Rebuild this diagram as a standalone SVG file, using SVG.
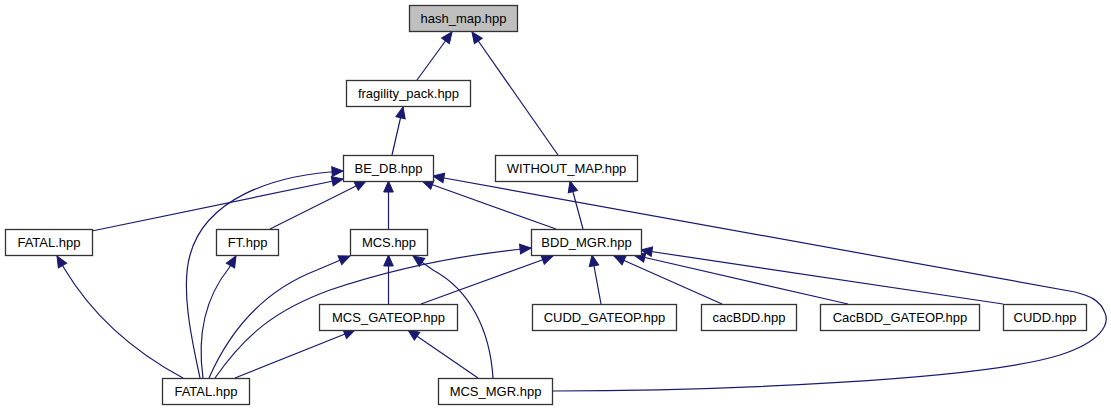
<svg xmlns="http://www.w3.org/2000/svg" width="1111" height="411" viewBox="0 0 1111 411">
<defs>
<style>
.n rect{fill:#fff;stroke:#333;stroke-width:1.3}
.n text{font-family:"Liberation Sans",Arial,sans-serif;font-size:13px;fill:#000;text-anchor:middle}
.e path{fill:none;stroke:#191970;stroke-width:1.2;marker-end:url(#ah)}
</style>
<marker id="ah" markerUnits="userSpaceOnUse" viewBox="-12 -6 13 12" markerWidth="13" markerHeight="12" refX="0" refY="0" orient="auto">
<path d="M0,0 L-11,-4.8 L-11,4.8 z" fill="#191970" stroke="#191970" stroke-width="1"/>
</marker>
</defs>
<rect width="1111" height="411" fill="#fff"/>
<g id="edges" class="e">
<path d="M417,80 L452,32"/>
<path d="M558,155 L472,32"/>
<path d="M392,155 L403,107"/>
<path d="M583,229 L570,181"/>
<path d="M92,231 L343,179"/>
<path d="M200,378 C193,345 180,290 190,255 C205,200 270,175 343,171"/>
<path d="M270,229 L366,181"/>
<path d="M388.5,229 L388.5,181"/>
<path d="M556,229 L422,181"/>
<path d="M552,391 C720,391 980,380 1060,355 C1100,342 1110,325 1105,313 C1100,300 1090,296 1075,292 L433,176"/>
<path d="M421,304 L553,256"/>
<path d="M215,378 C245,335 275,310 330,290 C395,268 460,255 531,248"/>
<path d="M209,378 C230,330 265,290 317,270 L350,256"/>
<path d="M388.5,304 L388.5,255"/>
<path d="M493,378 C490,330 470,290 433,270 L413,256"/>
<path d="M203,378 C197,335 205,298 229,268 L236,256"/>
<path d="M183,378 C140,355 95,320 64,268 L57,256"/>
<path d="M235,378 L355,330"/>
<path d="M478,378 L408,330"/>
<path d="M601,304 L592,255"/>
<path d="M722,304 L614,256"/>
<path d="M848,304 L634,255"/>
<path d="M1003,304 L641,250"/>
</g>
<g id="hash_map" class="n"><rect x="409.5" y="5.5" width="108" height="26" style="fill:#bfbfbf"/><text x="463.5" y="23">hash_map.hpp</text></g>
<g id="fragility_pack" class="n"><rect x="346.5" y="80.5" width="124" height="26"/><text x="408.5" y="98">fragility_pack.hpp</text></g>
<g id="BE_DB" class="n"><rect x="343.5" y="155.5" width="90" height="26"/><text x="388.5" y="173">BE_DB.hpp</text></g>
<g id="WITHOUT_MAP" class="n"><rect x="495.5" y="155.5" width="142" height="26"/><text x="566.5" y="173">WITHOUT_MAP.hpp</text></g>
<g id="FATAL_left" class="n"><rect x="5.5" y="229.5" width="87" height="26"/><text x="49" y="247">FATAL.hpp</text></g>
<g id="FT" class="n"><rect x="216.5" y="229.5" width="62" height="26"/><text x="247.5" y="247">FT.hpp</text></g>
<g id="MCS" class="n"><rect x="350.5" y="229.5" width="77" height="26"/><text x="389" y="247">MCS.hpp</text></g>
<g id="BDD_MGR" class="n"><rect x="531.5" y="229.5" width="110" height="26"/><text x="586.5" y="247">BDD_MGR.hpp</text></g>
<g id="MCS_GATEOP" class="n"><rect x="319.5" y="304.5" width="138" height="26"/><text x="388.5" y="322">MCS_GATEOP.hpp</text></g>
<g id="CUDD_GATEOP" class="n"><rect x="532.5" y="304.5" width="144" height="26"/><text x="604.5" y="322">CUDD_GATEOP.hpp</text></g>
<g id="cacBDD" class="n"><rect x="701.5" y="304.5" width="95" height="26"/><text x="749" y="322">cacBDD.hpp</text></g>
<g id="CacBDD_GATEOP" class="n"><rect x="820.5" y="304.5" width="159" height="26"/><text x="900" y="322">CacBDD_GATEOP.hpp</text></g>
<g id="CUDD" class="n"><rect x="1003.5" y="304.5" width="83" height="26"/><text x="1045" y="322">CUDD.hpp</text></g>
<g id="FATAL_bottom" class="n"><rect x="162.5" y="378.5" width="87" height="26"/><text x="206" y="396">FATAL.hpp</text></g>
<g id="MCS_MGR" class="n"><rect x="438.5" y="378.5" width="114" height="26"/><text x="495.5" y="396">MCS_MGR.hpp</text></g>
</svg>
